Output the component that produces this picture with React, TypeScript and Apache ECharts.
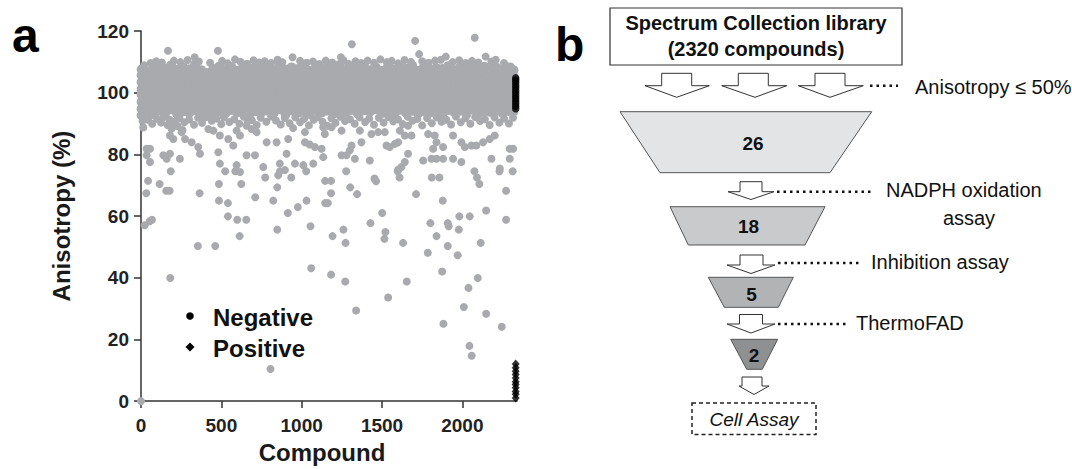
import React, { useEffect, useRef } from "react";
import * as echarts from "echarts";

// ---------- Panel a data (Compound index, Anisotropy %) ----------
// dense band, one entry per compound-index column: [x, y1, y2, ...]
const bandLeft: number[][] = [
  [4, 92.6, 94.8, 97.1, 99.3, 101.2, 103.4, 105.6, 107.5],
  [38, 93.9, 96.2, 98.0, 100.4, 102.5, 104.7, 106.8],
  [75, 93.1, 95.0, 97.3, 99.1, 101.6, 103.5, 105.4, 107.9],
  [112, 94.2, 96.4, 98.3, 100.2, 102.8, 104.6, 106.5, 108.6],
  [150, 93.4, 95.3, 97.5, 99.6, 101.3, 103.2, 105.7, 107.8],
  [187, 94.6, 96.1, 98.4, 100.5, 102.3, 104.4, 106.6, 108.9],
  [225, 93.2, 95.5, 97.0, 99.2, 101.7, 103.8, 105.9, 107.4],
  [262, 94.0, 96.6, 98.1, 100.3, 102.2, 104.1, 106.3, 108.2],
  [300, 93.5, 95.2, 97.6, 99.5, 101.4, 103.6, 105.2, 107.6],
  [337, 94.3, 96.0, 98.5, 100.7, 102.6, 104.5, 106.9, 109.1],
  [375, 93.0, 95.6, 97.2, 99.0, 101.1, 103.3, 105.5, 107.3],
  [412, 94.5, 96.3, 98.2, 100.1, 102.4, 104.8, 106.4],
  [450, 92.8, 95.1, 97.4, 99.7, 101.8, 103.0, 105.3, 107.7],
  [487, 94.1, 96.5, 98.6, 100.6, 102.1, 104.2, 106.7, 108.5],
  [525, 93.3, 95.4, 97.7, 99.4, 101.5, 103.7, 105.8, 107.2],
  [562, 94.4, 96.7, 98.0, 100.0, 102.7, 104.3, 106.2, 108.3],
  [600, 93.6, 95.7, 97.8, 99.8, 101.9, 103.1, 105.1, 107.1],
  [637, 94.7, 96.2, 98.7, 100.8, 102.0, 104.9, 106.1, 108.7],
  [675, 93.2, 95.9, 97.3, 99.9, 101.0, 103.9, 105.0, 107.9],
  [712, 94.0, 96.8, 98.9, 100.9, 102.9, 104.0, 106.0, 108.1],
  [750, 93.7, 95.8, 97.9, 99.3, 101.3, 103.3, 105.6, 107.6],
];
const bandMid: number[][] = [
  [787, 94.2, 96.0, 98.3, 100.2, 102.4, 104.6, 106.4, 108.4],
  [825, 93.4, 95.3, 97.1, 99.6, 101.6, 103.5, 105.3, 107.3],
  [862, 94.6, 96.5, 98.5, 100.5, 102.1, 104.2, 106.8, 108.8],
  [900, 93.0, 95.0, 97.5, 99.2, 101.2, 103.7, 105.9, 107.5],
  [937, 94.3, 96.4, 98.2, 100.3, 102.6, 104.4, 106.3, 108.2],
  [975, 93.5, 95.6, 97.6, 99.5, 101.7, 103.2, 105.4, 107.7],
  [1012, 94.1, 96.1, 98.0, 100.7, 102.3, 104.7, 106.6, 108.6],
  [1050, 93.1, 95.2, 97.2, 99.1, 101.4, 103.6, 105.2, 107.1],
  [1087, 94.5, 96.6, 98.6, 100.4, 102.5, 104.1, 106.2, 108.0],
  [1125, 93.6, 95.5, 97.4, 99.7, 101.8, 103.4, 105.7, 107.4],
  [1162, 94.2, 96.3, 98.4, 100.0, 102.2, 104.5, 106.5, 108.5],
  [1200, 93.3, 95.7, 97.7, 99.4, 101.5, 103.8, 105.1, 107.8],
  [1237, 94.0, 96.0, 98.1, 100.6, 102.8, 104.3, 106.7, 109.0],
  [1275, 93.7, 95.1, 97.3, 99.8, 101.1, 103.0, 105.5, 107.2],
  [1312, 94.4, 96.7, 98.8, 100.1, 102.0, 104.8, 106.0, 108.3],
  [1350, 93.2, 95.4, 97.0, 99.3, 101.6, 103.5, 105.8, 107.6],
  [1387, 94.3, 96.2, 98.3, 100.8, 102.4, 104.0, 106.4, 108.7],
  [1425, 93.8, 95.8, 97.8, 99.0, 101.9, 103.9, 105.3, 107.3],
  [1462, 94.6, 96.5, 98.5, 100.3, 102.7, 104.6, 106.9, 108.1],
  [1500, 93.4, 95.3, 97.5, 99.6, 101.3, 103.1, 105.0, 107.0],
  [1537, 94.1, 96.8, 98.0, 100.5, 102.1, 104.2, 106.3, 108.4],
];
const bandRight: number[][] = [
  [1575, 93.0, 95.6, 97.2, 99.2, 101.7, 103.7, 105.6, 107.5],
  [1612, 94.5, 96.1, 98.7, 100.9, 102.6, 104.4, 106.1, 108.2],
  [1650, 93.5, 95.0, 97.6, 99.5, 101.2, 103.3, 105.4, 107.8],
  [1687, 94.2, 96.4, 98.2, 100.2, 102.9, 104.9, 106.6, 108.9],
  [1725, 93.3, 95.7, 97.9, 99.7, 101.4, 103.6, 105.2, 107.1],
  [1762, 94.0, 96.6, 98.4, 100.6, 102.3, 104.1, 106.8, 108.5],
  [1800, 93.6, 95.2, 97.1, 99.1, 101.8, 103.8, 105.9, 107.4],
  [1837, 94.7, 96.3, 98.6, 100.4, 102.0, 104.7, 106.2, 108.0],
  [1875, 93.1, 95.5, 97.4, 99.8, 101.5, 103.2, 105.7, 107.7],
  [1912, 94.4, 96.0, 98.1, 100.0, 102.5, 104.3, 106.5, 108.6],
  [1950, 93.7, 95.9, 97.7, 99.3, 101.1, 103.5, 105.1, 107.3],
  [1987, 94.2, 96.7, 98.9, 100.7, 102.8, 104.0, 106.4, 108.3],
  [2025, 93.2, 95.1, 97.3, 99.6, 101.6, 103.9, 105.8, 107.9],
  [2062, 94.6, 96.2, 98.3, 100.1, 102.2, 104.6, 106.0, 108.8],
  [2100, 93.4, 95.4, 97.5, 99.4, 101.3, 103.4, 105.5, 107.2],
  [2137, 94.0, 96.5, 98.0, 100.5, 102.7, 104.2, 106.7, 108.4],
  [2175, 93.8, 95.8, 97.8, 99.9, 101.9, 103.1, 105.3, 107.6],
  [2212, 94.3, 96.1, 98.5, 100.3, 102.4, 104.8, 106.3, 108.1],
  [2250, 93.5, 95.3, 97.2, 99.2, 101.0, 103.6, 105.6, 107.5],
  [2287, 94.1, 96.6, 98.7, 100.8, 102.1, 104.5, 106.9, 108.2],
  [2318, 93.9, 95.7, 97.6, 99.7, 101.7, 103.3, 105.2, 107.3],
];
const topFringe: number[][] = [
  [20, 108.9], [60, 109.6], [95, 110.2], [130, 109.8], [168, 113.6], [205, 110.4], [245, 109.9],
  [290, 110.6], [334, 111.5], [360, 110.1], [430, 109.7], [479, 113.6], [505, 110.3], [540, 109.5],
  [585, 110.8], [620, 110.0], [660, 109.4], [700, 110.5], [735, 109.8], [770, 110.2], [810, 109.6],
  [850, 110.7], [880, 109.9], [943, 111.5], [990, 110.3], [1030, 109.7], [1070, 110.1], [1110, 109.3],
  [1150, 110.4], [1190, 109.8], [1244, 111.5], [1260, 110.5], [1290, 109.4], [1312, 115.7], [1335, 110.2],
  [1370, 109.6], [1410, 110.4], [1450, 109.7], [1490, 110.8], [1530, 109.9], [1560, 110.3], [1600, 109.5],
  [1640, 110.6], [1680, 110.0], [1706, 116.8], [1731, 112.5], [1750, 110.2], [1790, 109.7], [1830, 110.4],
  [1866, 110.7], [1897, 111.7], [1940, 109.9], [1980, 110.5], [2020, 109.6], [2060, 110.3], [2077, 117.8],
  [2100, 109.8], [2145, 111.7], [2180, 110.1], [2208, 110.7], [2259, 109.6], [2301, 108.5],
];
const lowFringe: number[][] = [
  [10, 90.8], [14, 88.7], [45, 91.2], [70, 89.9], [100, 91.5], [125, 90.3], [140, 92.0], [165, 89.5],
  [178, 91.2], [190, 88.3], [205, 90.6], [228, 89.2], [240, 91.8], [258, 87.9], [270, 90.4], [300, 91.3],
  [330, 89.6], [355, 91.9], [380, 90.2], [405, 92.1], [440, 90.9], [470, 91.6], [500, 89.8], [515, 92.0],
  [550, 90.5], [580, 91.4], [612, 89.9], [640, 92.2], [665, 90.7], [690, 91.1], [720, 89.5], [745, 91.9],
  [780, 90.6], [810, 92.3], [840, 91.0], [870, 89.7], [895, 91.8], [925, 90.1], [960, 92.0], [990, 90.4],
  [1015, 91.5], [1045, 89.4], [1075, 91.2], [1100, 92.1], [1130, 90.6], [1160, 89.3], [1185, 91.7],
  [1210, 90.2], [1240, 92.2], [1270, 90.8], [1300, 91.4], [1330, 89.9], [1360, 92.0], [1395, 90.5],
  [1420, 91.6], [1450, 89.6], [1480, 91.9], [1510, 90.3], [1540, 92.1], [1570, 90.7], [1600, 91.3],
  [1630, 89.8], [1660, 92.2], [1690, 90.9], [1720, 91.5], [1750, 89.4], [1780, 91.8], [1810, 90.1],
  [1840, 92.0], [1870, 90.6], [1900, 91.2], [1930, 89.7], [1960, 92.3], [1990, 90.4], [2020, 91.7],
  [2050, 89.9], [2080, 92.1], [2110, 90.8], [2140, 91.4], [2170, 89.5], [2200, 92.0], [2230, 90.3],
  [2260, 91.6], [2290, 90.0], [2315, 91.9],
];
const outliersMid: number[][] = [
  [35, 81.8], [56, 81.8], [35, 79.7], [56, 77.5], [139, 79.7], [180, 80.2], [160, 78.6], [242, 78.6],
  [201, 85.0], [180, 86.1], [253, 87.2], [274, 85.0], [315, 83.9], [356, 82.4], [367, 80.2], [222, 89.3],
  [419, 88.2], [450, 87.7], [491, 86.1], [481, 80.7], [491, 77.0], [543, 85.0], [574, 82.9], [595, 87.7],
  [616, 86.1], [657, 79.7], [709, 79.7], [595, 76.5], [761, 75.9], [657, 89.3], [688, 88.2], [720, 87.2],
  [782, 83.9], [844, 83.9], [864, 77.0], [854, 73.2], [896, 74.9], [616, 74.3],
  [916, 85.0], [947, 88.5], [1020, 87.2], [1020, 83.9], [1050, 83.2], [1082, 82.4], [1124, 81.8],
  [1134, 79.1], [906, 80.2], [958, 77.0], [1010, 76.5], [1072, 77.0], [1134, 88.8], [1186, 88.8],
  [1144, 86.6], [1248, 87.7], [1248, 79.7], [1279, 79.7], [1300, 81.3], [1310, 82.9], [1331, 78.6],
  [1362, 87.7], [1372, 83.9], [1434, 86.6], [1476, 87.2], [1517, 87.2], [1528, 82.9], [1548, 82.4],
  [1580, 83.4], [1600, 83.9], [1424, 78.0], [1611, 87.7], [1642, 86.1], [1662, 89.3], [1683, 86.1],
  [1662, 80.2], [1642, 77.5], [1621, 75.9], [1600, 75.0], [1756, 78.0], [1808, 78.6], [1839, 78.6],
  [1880, 78.6], [1787, 86.6], [1828, 86.1], [1839, 83.9], [1880, 82.4], [1818, 81.8], [1942, 86.1],
  [1994, 83.9], [2015, 82.4], [2056, 82.9], [2087, 82.9], [2129, 83.9], [2170, 85.0], [2201, 86.1],
  [1942, 78.6], [1994, 77.5], [2181, 78.6], [2233, 75.4], [2295, 81.8], [2316, 81.8], [2295, 78.6],
];
const outliersLow: number[][] = [
  [44, 71.4], [33, 67.4], [116, 70.4], [157, 68.2], [178, 68.2], [185, 74.5], [23, 57.0], [54, 58.3],
  [68, 58.8], [365, 67.4], [485, 70.4], [485, 65.0], [541, 64.2], [541, 59.9], [599, 58.8], [655, 58.8],
  [614, 53.5], [624, 70.4], [524, 74.5], [587, 74.5], [354, 50.3], [462, 50.3], [182, 39.9], [806, 10.4],
  [711, 66.1], [773, 72.5], [823, 65.0], [848, 69.3], [848, 55.6], [914, 61.0], [976, 62.9], [1030, 65.0],
  [935, 72.5], [865, 74.5], [1028, 74.5], [1055, 56.7], [1059, 43.1], [1146, 71.4], [1146, 64.2], [0, 0],
  [1183, 71.4], [1183, 67.4], [1163, 64.2], [1277, 74.5], [1302, 69.3], [1345, 67.1], [1453, 72.2],
  [1463, 71.3], [1598, 74.5], [1609, 72.5], [1712, 67.1], [1810, 72.5], [1857, 72.5], [1878, 65.0],
  [2075, 74.5], [2091, 72.5], [2106, 70.4], [2231, 74.5], [2313, 74.5], [2272, 68.2], [2148, 61.8],
  [2272, 58.8], [1192, 53.5], [1260, 55.6], [1273, 51.3], [1428, 57.7], [1501, 61.0], [1521, 54.8],
  [1515, 52.6], [1631, 51.3], [1801, 57.7], [1839, 53.5], [1785, 48.1], [1909, 57.7], [1915, 56.7],
  [1909, 50.3], [1981, 59.9], [2046, 59.9], [1978, 55.6], [1971, 47.3], [2114, 51.3], [1183, 41.0],
  [1271, 38.8], [1654, 38.8], [1538, 33.6], [1339, 29.4], [1874, 42.0], [2096, 39.9], [2038, 36.7],
  [2009, 30.5], [2148, 28.3], [1882, 25.1], [2245, 24.1], [2044, 17.9], [2058, 14.7],
];
const controlX = 2332;
const negativeControls = [94.8, 95.6, 96.5, 97.3, 98.2, 99.0, 99.9, 100.7, 101.6, 102.4, 103.3, 104.1, 104.8];
const positiveControls = [1.0, 2.2, 3.1, 4.3, 5.4, 6.3, 7.5, 8.6, 9.7, 10.8, 12.0];
const xTicks = [0, 500, 1000, 1500, 2000];

// ---------- Panel b data ----------
const headerLines = ["Spectrum Collection library", "(2320 compounds)"];
const funnelCounts = [26, 18, 5, 2];
const stepLabels = ["Anisotropy \u2264 50%", "NADPH oxidation", "assay", "Inhibition assay", "ThermoFAD"];
const finalStep = "Cell Assay";

const FONT = "'Liberation Sans', Arial, Helvetica, sans-serif";
const GRAY = "#a9aaad";

function blockArrow(sl: number, sr: number, ty: number, wy: number, wl: number, wr: number, ax: number, ay: number) {
  return {
    type: "polygon",
    shape: { points: [[sl, ty], [sr, ty], [sr, wy], [wr, wy], [ax, ay], [wl, wy], [sl, wy]] },
    style: { fill: "#fff", stroke: "#333", lineWidth: 1 },
  };
}
function dotted(x1: number, x2: number, y: number) {
  return {
    type: "line",
    shape: { x1, y1: y, x2, y2: y },
    style: { stroke: "#111", lineWidth: 2.5, lineDash: [2.5, 4] },
  };
}
function label(text: string, x: number, y: number, extra: any = {}) {
  return {
    type: "text",
    x,
    y,
    style: { text, fontSize: 20, fontFamily: FONT, fill: "#111", align: "left", verticalAlign: "middle", ...extra },
  };
}
function trapezoid(tl: number, tr: number, ty: number, br: number, bl: number, by: number, fill: string) {
  return {
    type: "polygon",
    shape: { points: [[tl, ty], [tr, ty], [br, by], [bl, by]] },
    style: { fill, stroke: "#555", lineWidth: 1 },
  };
}

export default function App() {
  const ref = useRef<HTMLDivElement>(null);
  useEffect(() => {
    if (!ref.current) return;
    const chart = echarts.init(ref.current, undefined, { renderer: "svg" });
    const cols = [...bandLeft, ...bandMid, ...bandRight];
    const bandData: number[][] = [];
    cols.forEach(([x, ...ys]) => ys.forEach((y) => bandData.push([x, y])));
    const scatterData: number[][] = [...topFringe, ...lowFringe, ...outliersMid, ...outliersLow];

    const funnelFills = ["#e3e4e5", "#c9cacc", "#b2b3b5", "#8f9092"];
    const numStyle = { fontSize: 19, fontWeight: "bold", align: "center" };

    const graphic: any[] = [
      { type: "text", x: 12, y: 35, style: { text: "a", fontSize: 48, fontWeight: "bold", fontFamily: FONT, fill: "#000", verticalAlign: "middle" } },
      { type: "text", x: 555, y: 44, style: { text: "b", fontSize: 48, fontWeight: "bold", fontFamily: FONT, fill: "#000", verticalAlign: "middle" } },
      // legend
      { type: "circle", shape: { cx: 190, cy: 316, r: 3.8 }, style: { fill: "#000" } },
      { type: "polygon", shape: { points: [[190, 342.5], [194.5, 347], [190, 351.5], [185.5, 347]] }, style: { fill: "#000" } },
      label("Negative", 213, 317, { fontSize: 24, fontWeight: "bold" }),
      label("Positive", 213, 348, { fontSize: 24, fontWeight: "bold" }),
      // header box
      { type: "rect", shape: { x: 610, y: 8, width: 292, height: 57 }, style: { fill: "#fff", stroke: "#333", lineWidth: 1.2 } },
      label(headerLines[0], 756, 23, { fontWeight: "bold", align: "center" }),
      label(headerLines[1], 756, 49, { fontWeight: "bold", align: "center" }),
      // first arrows row
      blockArrow(661.7, 691.7, 73.3, 85.7, 645, 709.3, 676.7, 97.3),
      blockArrow(738.3, 768.3, 73.3, 85.7, 721.7, 786.7, 755, 97.3),
      blockArrow(815, 845, 73.3, 85.7, 798.3, 863.3, 830, 97.3),
      dotted(870, 898, 85.7),
      label(stepLabels[0], 915, 87),
      // funnel 26
      trapezoid(620, 871.7, 111.7, 830, 660, 172.7, funnelFills[0]),
      label(String(funnelCounts[0]), 753, 143, numStyle),
      blockArrow(740, 762, 181.7, 191.7, 728, 774, 751, 199.5),
      dotted(777, 874, 191.7),
      label(stepLabels[1], 886, 190),
      label(stepLabels[2], 969, 218, { align: "center" }),
      // funnel 18
      trapezoid(670, 825, 206.7, 805, 688.3, 245, funnelFills[1]),
      label(String(funnelCounts[1]), 748.5, 226.5, numStyle),
      blockArrow(740, 763, 255, 265, 727, 775, 751, 273.5),
      dotted(778, 862, 263),
      label(stepLabels[3], 871, 262),
      // funnel 5
      trapezoid(708.3, 793.3, 277.3, 778.3, 724.3, 307.3, funnelFills[2]),
      label(String(funnelCounts[2]), 751.5, 294, numStyle),
      blockArrow(739.5, 762.5, 314.5, 324, 727, 775, 751, 333),
      dotted(778, 848, 324),
      label(stepLabels[4], 856, 323),
      // funnel 2
      trapezoid(730.7, 777.7, 339.3, 762.3, 746.7, 369.3, funnelFills[3]),
      label(String(funnelCounts[3]), 754, 355.5, numStyle),
      blockArrow(742, 762, 377, 386, 739, 769, 754, 394.5),
      { type: "rect", shape: { x: 692, y: 403, width: 124, height: 31.5 }, style: { fill: "#fff", stroke: "#222", lineWidth: 1.5, lineDash: [4, 3] } },
      label(finalStep, 754, 419, { align: "center", fontStyle: "italic", fontSize: 19 }),
    ];

    chart.setOption({
      animation: false,
      backgroundColor: "#fff",
      grid: { left: 141, top: 31, width: 376, height: 374, containLabel: false },
      xAxis: {
        type: "value",
        min: 0,
        max: 2340,
        interval: 500,
        name: "Compound",
        nameLocation: "middle",
        nameGap: 38,
        nameTextStyle: { fontSize: 24, fontWeight: "bold", fontFamily: FONT, color: "#1a1a1a", padding: [0, 14, 0, 0] },
        axisLine: { show: true, onZero: false, lineStyle: { color: "#333", width: 1.5 } },
        axisTick: { show: true, length: 7, lineStyle: { color: "#333", width: 1.5 }, customValues: xTicks },
        axisLabel: { fontSize: 19, fontWeight: "bold", fontFamily: FONT, color: "#222", margin: 15, customValues: xTicks, formatter: (v: number) => (v % 500 === 0 ? String(v) : "") },
        splitLine: { show: false },
      },
      yAxis: {
        type: "value",
        min: 0,
        max: 120,
        interval: 20,
        name: "Anisotropy (%)",
        nameLocation: "middle",
        nameGap: 68,
        nameTextStyle: { fontSize: 24, fontWeight: "bold", fontFamily: FONT, color: "#1a1a1a" },
        axisLine: { show: true, onZero: false, lineStyle: { color: "#333", width: 1.5 } },
        axisTick: { show: true, length: 7, lineStyle: { color: "#333", width: 1.5 } },
        axisLabel: { fontSize: 19, fontWeight: "bold", fontFamily: FONT, color: "#222", margin: 12 },
        splitLine: { show: false },
      },
      series: [
        {
          name: "Compounds (band)",
          type: "scatter",
          data: bandData,
          symbol: "circle",
          symbolSize: 10,
          itemStyle: { color: GRAY, opacity: 1 },
          clip: false,
          silent: true,
          z: 2,
        },
        {
          name: "Compounds",
          type: "scatter",
          data: scatterData,
          symbol: "circle",
          symbolSize: 8,
          itemStyle: { color: GRAY, opacity: 1 },
          clip: false,
          silent: true,
          z: 2,
        },
        {
          name: "Negative",
          type: "scatter",
          data: negativeControls.map((y) => [controlX, y]),
          symbol: "circle",
          symbolSize: 7.5,
          itemStyle: { color: "#000" },
          clip: false,
          z: 3,
        },
        {
          name: "Positive",
          type: "scatter",
          data: positiveControls.map((y) => [controlX, y]),
          symbol: "diamond",
          symbolSize: [8, 9],
          itemStyle: { color: "#000" },
          clip: false,
          z: 3,
        },
      ],
      graphic,
    });
    return () => chart.dispose();
  }, []);
  return (
    <div
      ref={ref}
      style={{ position: "absolute", left: 0, top: 0, width: 1072, height: 469, background: "#fff" }}
    />
  );
}
